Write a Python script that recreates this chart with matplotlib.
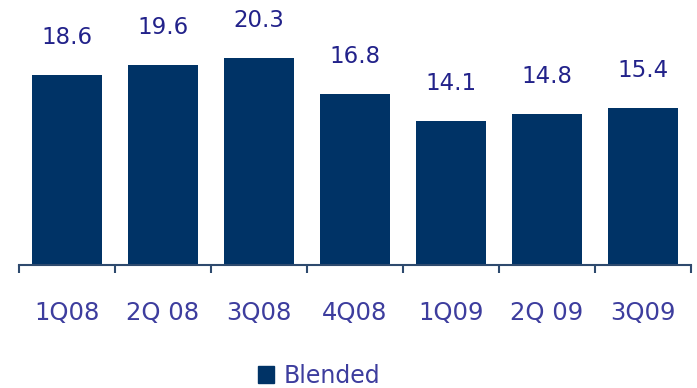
import matplotlib
matplotlib.use('Agg')
import matplotlib.pyplot as plt
from matplotlib.patches import Patch

quarters = ['1Q08', '2Q 08', '3Q08', '4Q08', '1Q09', '2Q 09', '3Q09']
blended = [18.6, 19.6, 20.3, 16.8, 14.1, 14.8, 15.4]

bar_color = '#003366'
label_color = '#3d3d9e'
value_color = '#22228a'

fig = plt.figure(figsize=(6.97, 3.88), dpi=100)
ax = fig.add_axes([19 / 697, 123 / 388, 672 / 697, 265 / 388])

x = range(len(quarters))
bars = ax.bar(x, blended, width=0.72, color=bar_color)

for xi, v in zip(x, blended):
    ax.annotate(f'{v:.1f}', (xi, v), xytext=(0, 22.5), textcoords='offset points',
                ha='center', va='baseline', fontsize=16.5, color=value_color)

ax.set_xlim(-0.5, len(quarters) - 0.5)
ax.set_ylim(0, 26)

for s in ['top', 'right', 'left']:
    ax.spines[s].set_visible(False)
ax.spines['bottom'].set_color('#2e4a6e')
ax.spines['bottom'].set_linewidth(1.5)
ax.set_yticks([])

# ticks at category boundaries, labels at centres
ax.set_xticks([i - 0.5 for i in range(len(quarters) + 1)])
ax.set_xticklabels([])
ax.tick_params(axis='x', which='major', length=6, width=1.5, color='#2e4a6e', direction='out')
ax.set_xticks(list(x), minor=True)
ax.set_xticklabels(quarters, minor=True)
ax.tick_params(axis='x', which='minor', length=0, pad=26, labelsize=17.5, labelcolor=label_color)

leg = fig.legend(handles=[Patch(color=bar_color, label='Blended')], loc='center',
                 bbox_to_anchor=(319 / 697, 1 - 376 / 388), frameon=False,
                 fontsize=17, handlelength=0.7, handleheight=0.7, handletextpad=0.4)
for t in leg.get_texts():
    t.set_color(label_color)

fig.savefig('out.png', dpi=100)
